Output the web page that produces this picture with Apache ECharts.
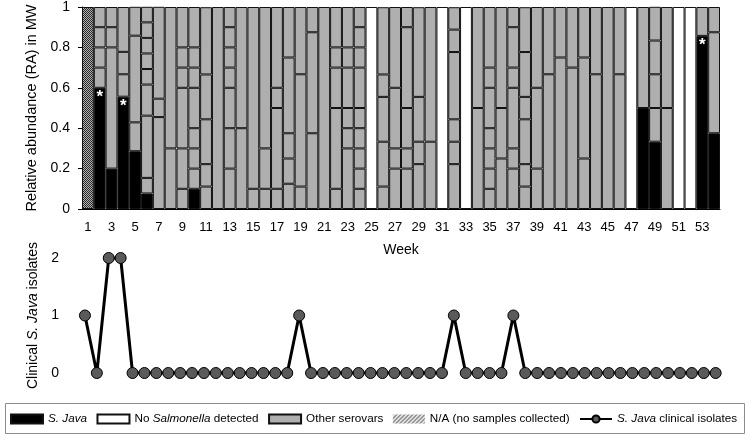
<!DOCTYPE html>
<html>
<head>
<meta charset="utf-8">
<script src="https://cdn.jsdelivr.net/npm/echarts@6/dist/echarts.min.js"></script>
<style>
  html, body { margin: 0; padding: 0; background: #fff; }
  #chart { width: 750px; height: 440px; }
</style>
</head>
<body>
<div id="chart"></div>
<script>
// ---------------- DATA ----------------
const weeks = ['1','2','3','4','5','6','7','8','9','10','11','12','13','14','15','16','17','18','19','20',
  '21','22','23','24','25','26','27','28','29','30','31','32','33','34','35','36','37','38','39','40',
  '41','42','43','44','45','46','47','48','49','50','51','52','53','54'];

// Relative abundance of S. Java per week (0 = none)
const javaRA = [0, 0.6, 0.2, 0.556, 0.286, 0.077, 0, 0, 0, 0.1,
  0, 0, 0, 0, 0, 0, 0, 0, 0, 0,
  0, 0, 0, 0, 0, 0, 0, 0, 0, 0,
  0, 0, 0, 0, 0, 0, 0, 0, 0, 0,
  0, 0, 0, 0, 0, 0, 0, 0.5, 0.333, 0,
  0, 0, 0.857, 0.375];

// Relative abundance of each other serovar (bottom to top), per week
const otherSerovars = [
  [],                                              // 1
  [0.1, 0.1, 0.1, 0.1],                            // 2
  [0.6, 0.1, 0.1],                                 // 3
  [0.111, 0.111, 0.222],                           // 4
  [0.143, 0.429, 0.143],                           // 5
  [0.077, 0.308, 0.154, 0.077, 0.077, 0.077, 0.077, 0.077], // 6
  [0.455, 0.091, 0.455],                           // 7
  [0.3, 0.7],                                      // 8
  [0.1, 0.2, 0.3, 0.1, 0.1, 0.2],                  // 9
  [0.1, 0.1, 0.1, 0.2, 0.1, 0.1, 0.2],             // 10
  [0.111, 0.111, 0.222, 0.222, 0.333],             // 11
  [1],                                             // 12
  [0.2, 0.2, 0.2, 0.1, 0.1, 0.1, 0.1],             // 13
  [0.4, 0.6],                                      // 14
  [0.1, 0.9],                                      // 15
  [0.1, 0.2, 0.7],                                 // 16
  [0.1, 0.4, 0.1, 0.4],                            // 17
  [0.125, 0.125, 0.125, 0.375, 0.25],              // 18
  [0.111, 0.556, 0.333],                           // 19
  [0.375, 0.5, 0.125],                             // 20
  [1],                                             // 21
  [0.1, 0.4, 0.2, 0.1, 0.2],                       // 22
  [0.3, 0.1, 0.1, 0.2, 0.1, 0.2],                  // 23
  [0.1, 0.1, 0.1, 0.1, 0.1, 0.2, 0.1, 0.1, 0.1],   // 24
  [],                                              // 25
  [0.111, 0.222, 0.222, 0.111, 0.333],             // 26
  [0.2, 0.1, 0.3, 0.4],                            // 27
  [0.2, 0.1, 0.2, 0.4, 0.1],                       // 28
  [0.222, 0.111, 0.222, 0.444],                    // 29
  [0.333, 0.667],                                  // 30
  [],                                              // 31
  [0.222, 0.111, 0.111, 0.333, 0.111, 0.111],      // 32
  [],                                              // 33
  [0.5, 0.5],                                      // 34
  [0.1, 0.1, 0.1, 0.1, 0.2, 0.1, 0.3],             // 35
  [0.25, 0.25, 0.5],                               // 36
  [0.2, 0.1, 0.3, 0.1, 0.2, 0.1],                  // 37
  [0.111, 0.111, 0.222, 0.111, 0.222, 0.222],      // 38
  [0.2, 0.4, 0.4],                                 // 39
  [0.667, 0.333],                                  // 40
  [0.75, 0.25],                                    // 41
  [0.7, 0.3],                                      // 42
  [0.25, 0.5, 0.25],                               // 43
  [0.667, 0.333],                                  // 44
  [1],                                             // 45
  [0.667, 0.333],                                  // 46
  [],                                              // 47
  [0.5],                                           // 48
  [0.167, 0.167, 0.167, 0.167],                    // 49
  [0.5, 0.5],                                      // 50
  [],                                              // 51
  [],                                              // 52
  [0.143],                                         // 53
  [0.5, 0.125]                                     // 54
];

const noSalmonellaWeeks = [25, 31, 33, 47, 51, 52];
const noSampleWeeks = [1];
const asteriskWeeks = [2, 4, 53];

const clinicalIsolates = [1, 0, 2, 2, 0, 0, 0, 0, 0, 0,
  0, 0, 0, 0, 0, 0, 0, 0, 1, 0,
  0, 0, 0, 0, 0, 0, 0, 0, 0, 0,
  0, 1, 0, 0, 0, 0, 1, 0, 0, 0,
  0, 0, 0, 0, 0, 0, 0, 0, 0, 0,
  0, 0, 0, 0];

const yTicksRA = [0, 0.2, 0.4, 0.6, 0.8, 1];

// ---------------- STYLE HELPERS ----------------
function checkerPattern() {
  const c = document.createElement('canvas');
  c.width = 2; c.height = 2;
  const g = c.getContext('2d');
  g.fillStyle = '#b4b4b4'; g.fillRect(0, 0, 2, 2);
  g.fillStyle = '#262626'; g.fillRect(0, 0, 1, 1); g.fillRect(1, 1, 1, 1);
  return c;
}
function stripePattern() {
  const c = document.createElement('canvas');
  c.width = 4; c.height = 4;
  const g = c.getContext('2d');
  g.fillStyle = '#ffffff'; g.fillRect(0, 0, 4, 4);
  g.strokeStyle = '#555555'; g.lineWidth = 1.2;
  g.beginPath();
  g.moveTo(0, 4); g.lineTo(4, 0);
  g.moveTo(-1, 1); g.lineTo(1, -1);
  g.moveTo(3, 5); g.lineTo(5, 3);
  g.stroke();
  return c;
}

const FONT = 'Liberation Sans, Arial, sans-serif';
const GREY = '#afafaf';
const EDGE = '#111';

// ---------------- SERIES ----------------
const series = [];
series.push({
  name: 'S. Java', type: 'bar', stack: 'ra', xAxisIndex: 0, yAxisIndex: 0,
  barCategoryGap: 0,
  itemStyle: { color: '#000', borderColor: EDGE, borderWidth: 1 },
  label: { show: false, position: 'insideTop', distance: 1, formatter: '*', color: '#fff',
           fontSize: 17, fontWeight: 'bold', fontFamily: FONT },
  data: javaRA.map((v, i) => {
    if (!(v > 0)) return '-';
    if (asteriskWeeks.includes(i + 1)) return { value: v, label: { show: true } };
    return v;
  })
});
const maxSeg = Math.max(...otherSerovars.map(s => s.length));
for (let k = 0; k < maxSeg; k++) {
  series.push({
    name: 'Other serovars', type: 'bar', stack: 'ra', xAxisIndex: 0, yAxisIndex: 0,
    barCategoryGap: 0,
    itemStyle: { color: GREY, borderColor: EDGE, borderWidth: 1 },
    data: otherSerovars.map(s => (k < s.length ? s[k] : '-'))
  });
}
series.push({
  name: 'No Salmonella detected', type: 'bar', stack: 'ra', xAxisIndex: 0, yAxisIndex: 0,
  barCategoryGap: 0,
  itemStyle: { color: '#fff', borderColor: EDGE, borderWidth: 1 },
  data: weeks.map(w => (noSalmonellaWeeks.includes(+w) ? 1 : '-'))
});
series.push({
  name: 'N/A (no samples collected)', type: 'bar', stack: 'ra', xAxisIndex: 0, yAxisIndex: 0,
  barCategoryGap: 0,
  itemStyle: { color: { image: checkerPattern(), repeat: 'repeat' }, borderColor: EDGE, borderWidth: 1 },
  data: weeks.map(w => (noSampleWeeks.includes(+w) ? 1 : '-'))
});
series.push({
  name: 'S. Java clinical isolates', type: 'line', xAxisIndex: 1, yAxisIndex: 1,
  data: clinicalIsolates,
  symbol: 'circle', symbolSize: 11, showSymbol: true, showAllSymbol: true,
  lineStyle: { color: '#000', width: 3 },
  itemStyle: { color: '#5a5a5a', borderColor: '#000', borderWidth: 1 },
  z: 5
});

const LFS = 11.7;
const richItalic = {
  i: { fontStyle: 'italic', fontFamily: FONT, fontSize: LFS, color: '#000' },
  n: { fontFamily: FONT, fontSize: LFS, color: '#000' }
};

const option = {
  animation: false,
  backgroundColor: '#fff',
  textStyle: { fontFamily: FONT, color: '#000' },
  grid: [
    { left: 82, right: 30, top: 6, bottom: 231 },
    { left: 79, right: 28.4, top: 258, bottom: 67 }
  ],
  xAxis: [
    {
      type: 'category', gridIndex: 0, data: weeks, boundaryGap: true,
      name: 'Week', nameLocation: 'middle', nameGap: 34,
      nameTextStyle: { fontSize: 14, fontFamily: FONT, color: '#000' },
      axisLine: { lineStyle: { color: '#000', width: 1 } },
      axisTick: { interval: 0, length: 4, lineStyle: { color: '#000' } },
      axisLabel: { interval: 1, fontSize: 13, margin: 12, color: '#000', fontFamily: FONT }
    },
    {
      type: 'category', gridIndex: 1, data: weeks, boundaryGap: true,
      axisLine: { show: false }, axisTick: { show: false }, axisLabel: { show: false }
    }
  ],
  yAxis: [
    {
      type: 'value', gridIndex: 0, min: 0, max: 1, interval: 0.2,
      name: 'Relative abundance (RA) in MW', nameLocation: 'middle', nameGap: 42,
      nameTextStyle: { fontSize: 14.5, fontFamily: FONT, color: '#000' },
      axisLine: { show: true, lineStyle: { color: '#000', width: 1 } },
      axisTick: { show: true, length: 4, lineStyle: { color: '#000' } },
      axisLabel: { fontSize: 14, margin: 12, color: '#000', fontFamily: FONT,
                   formatter: v => String(yTicksRA.find(t => Math.abs(t - v) < 1e-9) ?? v) },
      splitLine: { show: false }
    },
    {
      type: 'value', gridIndex: 1, min: 0, max: 2, interval: 1,
      name: 'Clinical {i|S. Java} isolates', nameLocation: 'middle', nameGap: 39,
      nameTextStyle: { fontSize: 14, fontFamily: FONT, color: '#000',
        rich: { i: { fontStyle: 'italic', fontSize: 14, fontFamily: FONT, color: '#000' } } },
      axisLine: { show: false }, axisTick: { show: false },
      axisLabel: { fontSize: 14, margin: 20, color: '#000', fontFamily: FONT },
      splitLine: { show: false }
    }
  ],
  legend: {
    left: 10, top: 413, width: 1000, padding: 0, itemWidth: 32, itemHeight: 9, itemGap: 9.5,
    orient: 'horizontal',
    selectedMode: false,
    data: [
      { name: 'S. Java', icon: 'rect' },
      { name: 'No Salmonella detected', icon: 'rect' },
      { name: 'Other serovars', icon: 'rect' },
      { name: 'N/A (no samples collected)', icon: 'rect',
        itemStyle: { color: { image: stripePattern(), repeat: 'repeat' }, borderColor: '#fff', borderWidth: 0 } },
      { name: 'S. Java clinical isolates' }
    ],
    textStyle: { fontSize: LFS, fontFamily: FONT, color: '#000', rich: richItalic },
    formatter: function (name) {
      if (name === 'S. Java') return '{i|S. Java}';
      if (name === 'No Salmonella detected') return '{n|No }{i|Salmonella}{n| detected}';
      if (name === 'S. Java clinical isolates') return '{i|S. Java}{n| clinical isolates}';
      return '{n|' + name + '}';
    }
  },
  graphic: [
    { type: 'rect', shape: { x: 5.5, y: 403.5, width: 739, height: 30 },
      style: { fill: 'none', stroke: '#8c8c8c', lineWidth: 1 }, silent: true }
  ],
  series: series
};

const chart = echarts.init(document.getElementById('chart'), null, { renderer: 'canvas' });
chart.setOption(option);
</script>
</body>
</html>
